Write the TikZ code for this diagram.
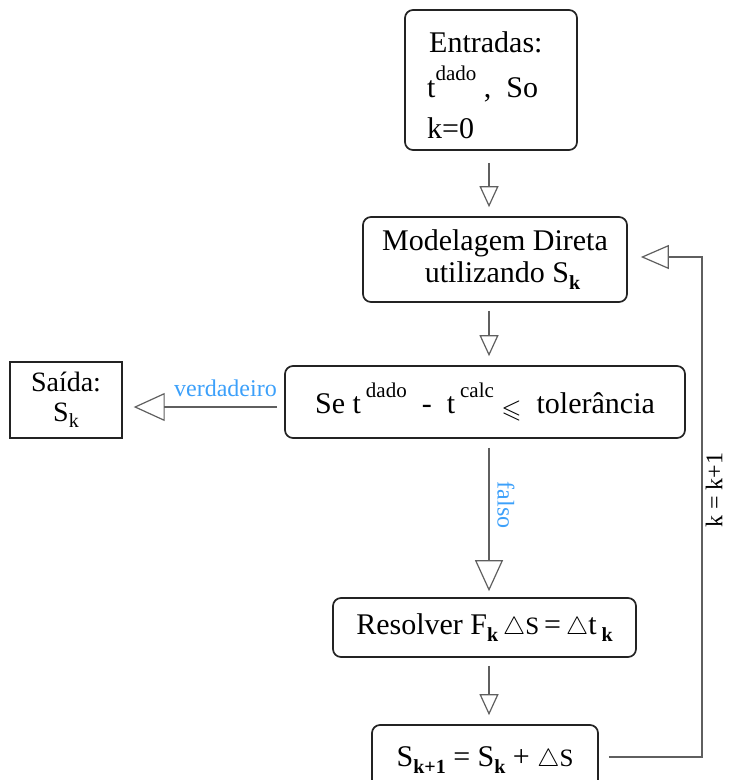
\documentclass[tikz,border=0pt]{standalone}
\usepackage{amssymb}
\usepackage{fontspec}
\setmainfont{Liberation Serif}
\usetikzlibrary{arrows.meta}
\definecolor{lblue}{RGB}{60,160,250}
\definecolor{bord}{RGB}{35,35,35}
\definecolor{lgray}{RGB}{95,95,95}
\newcommand{\supx}[1]{\raisebox{0.55em}{\fontsize{21}{21}\selectfont #1}}
\newcommand{\subx}[1]{\raisebox{-0.25em}{\fontsize{20}{20}\selectfont\bfseries #1}}
\newcommand{\subn}[1]{\raisebox{-0.2em}{\fontsize{20}{20}\selectfont #1}}
\begin{document}
\begin{tikzpicture}[x=1pt,y=-1pt,
  box/.style={draw=bord, line width=1.7pt, rounded corners=8pt, inner sep=0pt, align=center,
    font=\fontsize{30}{36}\selectfont},
  sqbox/.style={box, rounded corners=0pt, line width=1.4pt, font=\fontsize{28}{34}\selectfont},
  txt/.style={inner sep=0pt, anchor=base west, font=\fontsize{30}{36}\selectfont},
  conn/.style={draw=lgray, line width=1.3pt},
  tipsmall/.style={-{Triangle[open,length=21pt,width=19pt,line width=1.2pt]}},
  tipbig/.style={-{Triangle[open,length=31pt,width=28pt,line width=1.2pt]}},
  lab/.style={text=lblue, font=\fontsize{24}{24}\selectfont, inner sep=1pt}
]
\useasboundingbox (0,0) rectangle (729,780);
\clip (0,0) rectangle (729,780);

\node[box, minimum width=172pt, minimum height=140pt] (inp) at (491,80) {};
\node[txt] (e1) at (429,52) {Entradas:};
\node[txt] (e2) at (427,97) {t\supx{dado}\ ,\ \ So};
\node[txt] (e3) at (427,138) {k=0};

\node[box, minimum width=264pt, minimum height=85pt] (mod) at (495,259.5)
  {Modelagem Direta\\[-4pt]\ \ utilizando S\subx{k}};

\node[box, minimum width=400pt, minimum height=72pt] (cond) at (485,402)
  {Se t\,\supx{dado}\ \ -\ \ t\,\supx{calc}\ \raisebox{-0.12em}{\fontsize{26}{26}\selectfont$\leqslant$}\ \ tolerância};

\node[sqbox, minimum width=112pt, minimum height=76pt] (out) at (66,400)
  {Saída:\\[-4pt]S\subn{k}};

\node[box, minimum width=303pt, minimum height=59pt] (res) at (484.5,627.5)
  {Resolver F\subx{k}\,$\triangle${\fontsize{25}{25}\selectfont S}\,=\,$\triangle$t\,\subx{k}};

\node[box, minimum width=226pt, minimum height=70pt] (upd) at (485,760)
  {S\subx{k+1}\ =\ S\subx{k}\ +\ $\triangle${\fontsize{25}{25}\selectfont S}};

% vertical arrows
\draw[conn, tipsmall, shorten <=12pt, shorten >=9pt] (inp.south -| 489,0) -- (mod.north -| 489,0);
\draw[conn, tipsmall, shorten <=8pt, shorten >=9pt] (mod.south -| 489,0) -- (cond.north -| 489,0);
\draw[conn, tipbig, shorten <=9pt, shorten >=6pt] (cond.south -| 489,0) -- (res.north -| 489,0);
\node[lab, rotate=-90] (lf) at (506,505) {falso};
\draw[conn, tipsmall, shorten <=8pt, shorten >=9pt] (res.south -| 489,0) -- (upd.north -| 489,0);

% verdadeiro
\draw[conn, tipbig, shorten <=7pt, shorten >=11pt] (cond.west |- 0,407) -- (out.east |- 0,407);
\node[lab, anchor=base east] (lv) at (278,396) {verdadeiro};

% feedback loop
\coordinate (c1) at (702,757);
\coordinate (c2) at (702,257);
\draw[conn, -{Triangle[open,length=28pt,width=24pt,line width=1.2pt]}, shorten >=13pt]
  ([xshift=10pt]upd.east |- c1) -- (c1) -- (c2) -- (mod.east |- c2);
\node[rotate=90, font=\fontsize{24}{24}\selectfont, inner sep=0pt] (lk) at (714,490) {k = k+1};
\end{tikzpicture}
\end{document}
